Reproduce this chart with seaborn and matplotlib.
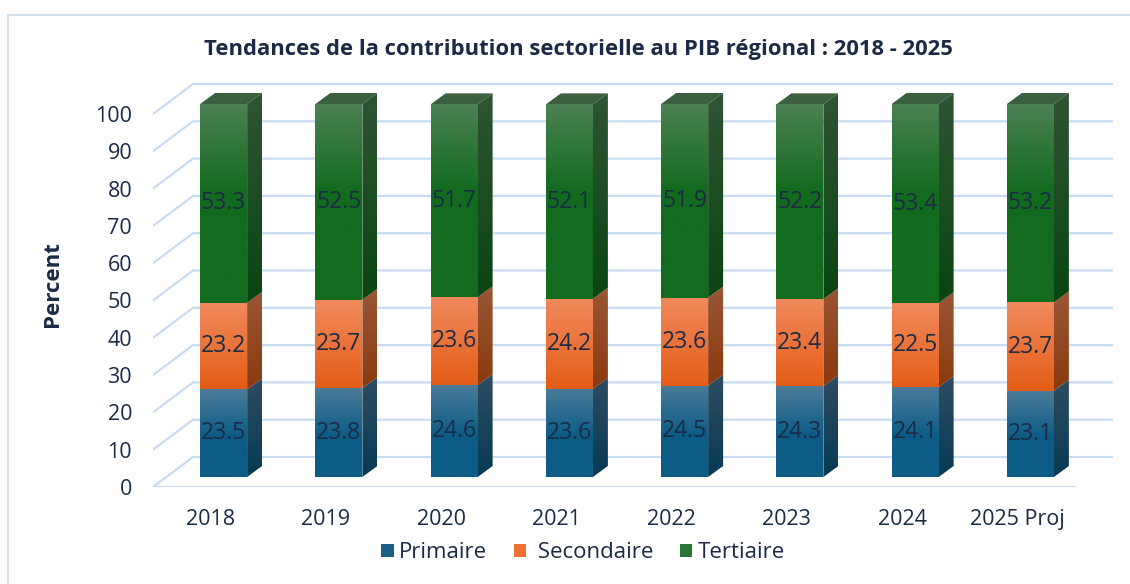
import numpy as np
import pandas as pd
import matplotlib
matplotlib.use("Agg")
import matplotlib.pyplot as plt
import seaborn as sns
from matplotlib.patches import Polygon, Patch
from matplotlib.lines import Line2D
from matplotlib.colors import to_rgb

# -----------------------------
# DATA
# -----------------------------
years = ["2018", "2019", "2020", "2021", "2022", "2023", "2024", "2025 Proj"]
primaire = [23.5, 23.8, 24.6, 23.6, 24.5, 24.3, 24.1, 23.1]
secondaire = [23.2, 23.7, 23.6, 24.2, 23.6, 23.4, 22.5, 23.7]
tertiaire = [53.3, 52.5, 51.7, 52.1, 51.9, 52.2, 53.4, 53.2]
series_names = ["Primaire", "Secondaire", "Tertiaire"]
legend_labels = ["Primaire", " Secondaire", "Tertiaire"]
yticks = list(range(0, 101, 10))
title = "Tendances de la contribution sectorielle au PIB régional : 2018 - 2025"

df = pd.DataFrame({"Annee": years, "Primaire": primaire,
                   "Secondaire": secondaire, "Tertiaire": tertiaire})

# -----------------------------
# STYLE
# -----------------------------
sns.set_theme(style="white")
plt.rcParams["font.family"] = ["Open Sans", "DejaVu Sans"]
TXT = "#1b2a45"
GRID = "#c9dbf0"

# colours: front (top, base, stop), side (top, bottom)
front = {
    "Primaire": ("#4b7b98", "#0c5c86", 0.55),
    "Secondaire": ("#f08a5d", "#e45d18", 1.0),
    "Tertiaire": ("#4b8053", "#126b1e", 0.45),
}
side = {
    "Primaire": ("#2e4c62", "#073a55"),
    "Secondaire": ("#9a5636", "#8a3a0e"),
    "Tertiaire": ("#2f5434", "#0a4512"),
}
top_face = "#3a603f"
legend_col = {"Primaire": "#1a6085", "Secondaire": "#ee7034", "Tertiaire": "#2a7535"}

# pixel geometry of the fake 3D
W, H = 1130, 584
PX_X = 115.25   # px per category
PX_Y = 3.73     # px per percent
BAR_W = 47 / PX_X
BAR_DX, BAR_DY = 13 / PX_X, 10 / PX_Y
SIDE_DX, SIDE_DY = 15 / PX_X, 11 / PX_Y
WALL_DX, WALL_DY = 40 / PX_X, 30 / PX_Y

fig = plt.figure(figsize=(W / 100, H / 100), dpi=100)
ax = fig.add_axes([153 / W, 97 / H, 967 / W, 417 / H])


def grad_poly(verts, c_top, c_bot, z, stop=1.0):
    poly = Polygon(verts, closed=True, facecolor="none", edgecolor="none", zorder=z)
    ax.add_patch(poly)
    xs = [v[0] for v in verts]
    ys = [v[1] for v in verts]
    n = 100
    t = np.linspace(0, 1, n)
    a, b = np.array(to_rgb(c_top)), np.array(to_rgb(c_bot))
    f = np.clip(t / stop, 0, 1)[:, None]
    cols = (a * (1 - f) + b * f)[:, None, :]
    im = ax.imshow(cols, extent=[min(xs), max(xs), min(ys), max(ys)], origin="upper",
                   aspect="auto", zorder=z, interpolation="bilinear")
    im.set_clip_path(poly)


# back wall gridlines
xr = -0.5 + 960 / PX_X
for v in yticks:
    ax.plot([-0.5, -0.5 + WALL_DX, xr], [v, v + WALL_DY, v + WALL_DY],
            color=GRID, lw=1.6, zorder=1, solid_capstyle="butt")
ax.plot([-0.5, len(years) - 0.5], [0, 0], color=GRID, lw=1.6, zorder=1)

# -----------------------------
# STACKED BARS
# -----------------------------
bottom = np.zeros(len(years))
for name in series_names:
    n0 = len(ax.patches)
    sns.barplot(data=df, x="Annee", y=name, color=front[name][1], saturation=1,
                width=BAR_W, ax=ax, zorder=3, edgecolor="none")
    vals = df[name].to_numpy()
    for i, p in enumerate(ax.patches[n0:n0 + len(years)]):
        x0 = i - BAR_W / 2 + BAR_DX
        y0 = bottom[i] + BAR_DY
        p.set_x(x0)
        p.set_y(y0)
        p.set_height(vals[i])
        x1, y1 = x0 + BAR_W, y0 + vals[i]
        # front face gradient
        grad_poly([(x0, y0), (x1, y0), (x1, y1), (x0, y1)],
                  front[name][0], front[name][1], 3.2, front[name][2])
        # side face
        grad_poly([(x1, y0), (x1 + SIDE_DX, y0 + SIDE_DY), (x1 + SIDE_DX, y1 + SIDE_DY), (x1, y1)],
                  side[name][0], side[name][1], 3.1)
        if name == series_names[-1]:
            ax.add_patch(Polygon([(x0, y1), (x0 + SIDE_DX, y1 + SIDE_DY),
                                  (x1 + SIDE_DX, y1 + SIDE_DY), (x1, y1)],
                                 closed=True, facecolor=top_face, edgecolor="none", zorder=3.1))
        ax.text(i + BAR_DX, y0 + vals[i] / 2, f"{vals[i]:.1f}", ha="center", va="center",
                fontsize=16.5, color=TXT, zorder=10)
    bottom += vals

# -----------------------------
# AXES
# -----------------------------
ax.set_xlim(-0.5, -0.5 + 967 / PX_X)
ax.set_ylim(0, 417 / PX_Y)
ax.set_yticks(yticks)
ax.set_yticklabels([str(v) for v in yticks])
ax.set_xticks(range(len(years)))
ax.set_xticklabels(years)
ax.tick_params(axis="y", length=0, pad=15, labelsize=15.5, labelcolor=TXT)
ax.tick_params(axis="x", length=0, pad=15.5, labelsize=15.5, labelcolor=TXT)
ax.set_xlabel("")
ax.set_ylabel("")
for s in ax.spines.values():
    s.set_visible(False)
ax.set_facecolor("none")

fig.text(578 / W, 1 - 50 / H, title, ha="center", va="center",
         fontsize=15.8, fontweight="bold", color=TXT)
fig.text(52 / W, 1 - 284 / H, "Percent", rotation=90, ha="center", va="center",
         fontsize=16, fontweight="bold", color=TXT)

handles = [Patch(facecolor=legend_col[n], edgecolor="none") for n in series_names]
fig.legend(handles, legend_labels, loc="center", bbox_to_anchor=(583 / W, 1 - 553 / H),
           ncol=3, frameon=False, fontsize=16, labelcolor=TXT, handlelength=0.55,
           handleheight=0.55, handletextpad=0.25, columnspacing=1.2)

# outer border
fig.add_artist(Line2D([8 / W, 8 / W, 1.0], [0.0, 1 - 15 / H, 1 - 15 / H],
                      transform=fig.transFigure, color="#d3dfec", lw=1.5))

fig.savefig("out.png", dpi=100)
